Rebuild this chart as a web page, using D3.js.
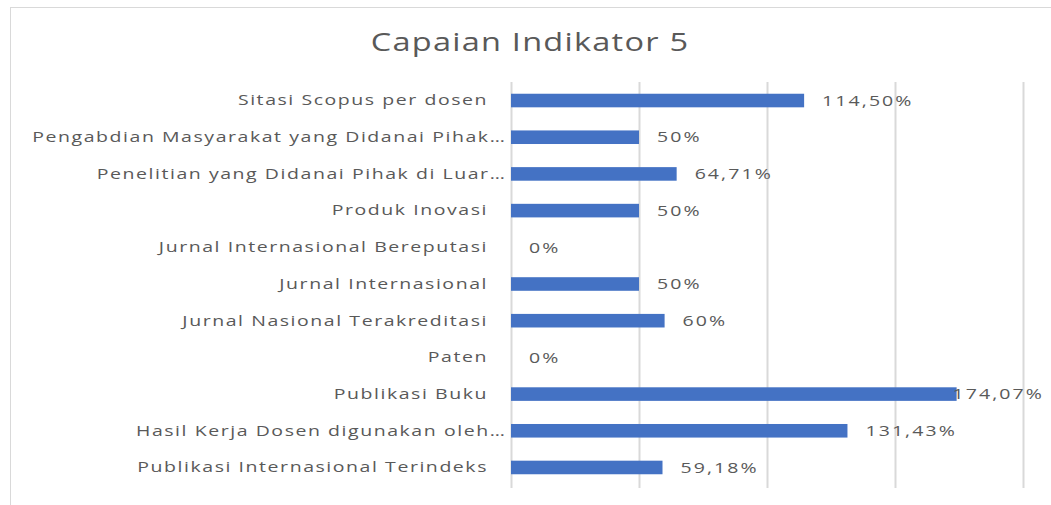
<!DOCTYPE html>
<html>
<head>
<meta charset="utf-8">
<script src="https://cdn.jsdelivr.net/npm/d3@7"></script>
<style>
	body { margin: 0; background: #fff; }
	svg { display: block; }
</style>
</head>
<body>
<div id="chart"></div>
<script>
// data
var categories = [
	'Sitasi Scopus per dosen',
	'Pengabdian Masyarakat yang Didanai Pihak...',
	'Penelitian yang Didanai Pihak di Luar...',
	'Produk Inovasi',
	'Jurnal Internasional Bereputasi',
	'Jurnal Internasional',
	'Jurnal Nasional Terakreditasi',
	'Paten',
	'Publikasi Buku',
	'Hasil Kerja Dosen digunakan oleh...',
	'Publikasi Internasional Terindeks'
];
var values = [114.50, 50, 64.71, 50, 0, 50, 60, 0, 174.07, 131.43, 59.18];
var valueLabels = ['114,50%', '50%', '64,71%', '50%', '0%', '50%', '60%', '0%', '174,07%', '131,43%', '59,18%'];
var gridTicks = [0, 50, 100, 150, 200];
var title = 'Capaian Indikator 5';

var width = 1051,
	height = 505,
	margin = { top: 82, right: 28, bottom: 19, left: 511 },
	stretch = 1.3; // the picture's text is wide, stretch it sideways

var svg = d3.select('#chart')
	.append('svg')
	.attr('width', width)
	.attr('height', height);

// chart frame
svg.append('rect')
	.attr('x', 10.5)
	.attr('y', 7.5)
	.attr('width', width + 20)
	.attr('height', height)
	.attr('fill', '#fff')
	.attr('stroke', '#d9d9d9');

svg.append('text')
	.attr('transform', 'translate(530,51) scale(1.25,1)')
	.attr('text-anchor', 'middle')
	.attr('font-family', 'Open Sans')
	.attr('font-size', 26)
	.attr('letter-spacing', 1)
	.attr('fill', '#595959')
	.text(title);

var x = d3.scaleLinear()
	.domain([0, 200])
	.range([margin.left, width - margin.right]);

var y = d3.scaleBand()
	.domain(categories)
	.range([margin.top, height - margin.bottom])
	.paddingInner(0.63)
	.paddingOuter(0.32);

// vertical gridlines
var xAxis = d3.axisBottom(x).tickValues(gridTicks).tickSize(-(height - margin.bottom - margin.top + 2)).tickFormat('');
var gx = svg.append('g')
	.attr('transform', 'translate(0,' + (height - margin.bottom + 2) + ')')
	.call(xAxis);
gx.select('.domain').remove();
gx.selectAll('line').attr('stroke', '#d9d9d9').attr('stroke-width', 2);

// category labels
var yAxis = d3.axisLeft(y).tickSize(0).tickPadding(0);
var gy = svg.append('g')
	.attr('transform', 'translate(' + (margin.left - 23) + ',0)')
	.call(yAxis);
gy.select('.domain').remove();
gy.selectAll('text')
	.attr('font-family', 'Open Sans')
	.attr('font-size', 15)
	.attr('letter-spacing', 1.2)
	.attr('fill', '#595959')
	.attr('transform', 'scale(' + stretch + ',1)')
	.each(function(d) {
		// truncated names: the dots run past the label edge
		var t = d3.select(this);
		if (d.slice(-3) === '...') {
			t.text(d.slice(0, -3));
			t.append('tspan').attr('letter-spacing', 0).text('...');
			t.attr('x', 17 / stretch);
		}
	});

// bars
svg.append('g')
	.selectAll('rect')
	.data(values)
	.enter()
	.append('rect')
	.attr('x', x(0))
	.attr('y', function(d, i) { return y(categories[i]); })
	.attr('width', function(d) { return x(d) - x(0); })
	.attr('height', y.bandwidth())
	.attr('fill', '#4472c4');

// value labels, pushed back left when they would leave the chart
var labelEdge = width - 7;
svg.append('g')
	.selectAll('text')
	.data(values)
	.enter()
	.append('text')
	.attr('dy', '0.35em')
	.attr('font-family', 'Open Sans')
	.attr('font-size', 15)
	.attr('letter-spacing', 1.6)
	.attr('fill', '#595959')
	.text(function(d, i) { return valueLabels[i]; })
	.attr('transform', function(d, i) {
		var w = this.getComputedTextLength() * stretch;
		var lx = Math.min(x(d) + 18, labelEdge - w);
		var ly = y(categories[i]) + y.bandwidth() / 2;
		return 'translate(' + lx + ',' + ly + ') scale(' + stretch + ',1)';
	});
</script>
</body>
</html>
